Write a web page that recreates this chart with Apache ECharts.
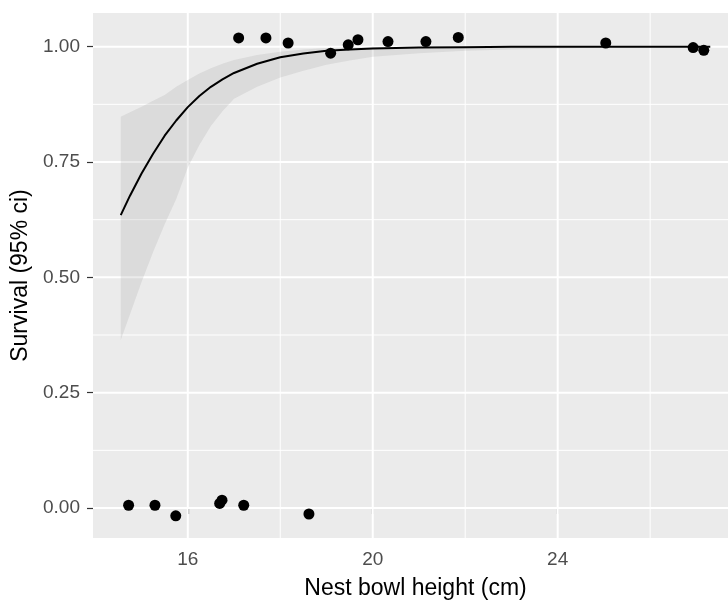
<!DOCTYPE html>
<html>
<head>
<meta charset="utf-8">
<script src="https://cdn.jsdelivr.net/npm/echarts@6/dist/echarts.min.js"></script>
<style>
html,body{margin:0;padding:0;background:#fff;}
#chart{width:728px;height:604px;}
</style>
</head>
<body>
<div id="chart"></div>
<script>
// Observed points (jittered survival 0/1)
var survX = [17.10,17.69,18.17,19.09,19.47,19.68,20.33,21.15,21.85,25.04,26.93,27.16,
             14.72,15.29,15.74,16.69,16.74,17.21,18.62];
var survY = [1.019,1.019,1.008,0.986,1.004,1.015,1.011,1.011,1.020,1.008,0.998,0.992,
             0.006,0.006,-0.017,0.010,0.017,0.006,-0.013];
// Fitted curve
var fitX = [14.55,14.75,15,15.25,15.5,15.75,16,16.25,16.5,16.75,17,17.5,18,18.5,19,19.5,20,21,22,23,27.3];
var fitY = [0.635,0.677,0.725,0.768,0.807,0.840,0.869,0.893,0.913,0.929,0.943,0.963,0.977,0.985,0.991,0.994,0.996,0.998,0.999,1.0,1.0];
// 95% CI ribbon
var ciX  = [14.55,14.75,15,15.25,15.5,15.75,16,16.25,16.5,16.75,17,17.5,18,18.5,19,19.5,20,21,22,23,24,25,26,27.3];
var ciLo = [0.364,0.420,0.490,0.555,0.615,0.670,0.738,0.787,0.828,0.860,0.887,0.913,0.933,0.948,0.961,0.970,0.978,0.986,0.991,0.994,0.996,0.998,0.999,1.0];
var ciHi = [0.848,0.858,0.870,0.883,0.895,0.913,0.928,0.942,0.953,0.963,0.971,0.982,0.989,0.994,0.997,0.998,0.999,1.0,1.0,1.0,1.0,1.0,1.0,1.0];
// Ticks / grid
var xTicks = [16,20,24];
var xMinor = [18,22,26];
var yTicks = [0,0.25,0.5,0.75,1];
var yMinor = [0.125,0.375,0.625,0.875];
var xRange = [13.95, 27.9];
var yRange = [-0.065, 1.073];

var chart = echarts.init(document.getElementById('chart'));
var font = 'Liberation Sans, Arial, sans-serif';

chart.setOption({
  animation:false,
  backgroundColor:'#ffffff',
  grid:{left:93, top:13, width:645, height:525, show:true, backgroundColor:'#EBEBEB',
        borderWidth:0, outerBoundsMode:'none', containLabel:false},
  xAxis:{
    type:'value', min:xRange[0], max:xRange[1],
    name:'Nest bowl height (cm)', nameLocation:'middle', nameGap:39,
    nameTextStyle:{fontFamily:font, fontSize:23, color:'#000'},
    axisLine:{show:false},
    axisTick:{show:true, length:6, customValues:xTicks, lineStyle:{color:'#333333', width:1.2}},
    axisLabel:{customValues:xTicks, fontFamily:font, fontSize:19, color:'#4D4D4D', margin:12},
    splitLine:{show:false}
  },
  yAxis:{
    type:'value', min:yRange[0], max:yRange[1],
    name:'Survival (95% ci)', nameLocation:'middle', nameGap:58, nameRotate:90,
    nameTextStyle:{fontFamily:font, fontSize:23, color:'#000'},
    axisLine:{show:false},
    axisTick:{show:true, length:6, customValues:yTicks, lineStyle:{color:'#333333', width:1.2}},
    axisLabel:{customValues:yTicks, fontFamily:font, fontSize:19, color:'#4D4D4D', margin:13,
      formatter:function(v){return v.toFixed(2);}},
    splitLine:{show:false}
  },
  series:[
    {
      type:'custom', z:1, silent:true, clip:true,
      data:[[xRange[0], yRange[0]]],
      renderItem:function(params, api){
        var ch = [];
        function vline(v, w){
          var a = api.coord([v, yRange[0]]), b = api.coord([v, yRange[1]]);
          ch.push({type:'line', shape:{x1:a[0],y1:a[1],x2:b[0],y2:b[1]}, style:{stroke:'#fff', lineWidth:w}});
        }
        function hline(v, w){
          var a = api.coord([xRange[0], v]), b = api.coord([xRange[1], v]);
          ch.push({type:'line', shape:{x1:a[0],y1:a[1],x2:b[0],y2:b[1]}, style:{stroke:'#fff', lineWidth:w}});
        }
        xMinor.forEach(function(v){vline(v,1);});
        yMinor.forEach(function(v){hline(v,1);});
        xTicks.forEach(function(v){vline(v,2);});
        yTicks.forEach(function(v){hline(v,2);});
        return {type:'group', children:ch};
      }
    },
    {
      type:'custom', z:2, silent:true, clip:true,
      data:[[ciX[0], ciLo[0]]],
      renderItem:function(params, api){
        var pts = [];
        for (var i=0;i<ciX.length;i++) pts.push(api.coord([ciX[i], ciHi[i]]));
        for (var j=ciX.length-1;j>=0;j--) pts.push(api.coord([ciX[j], ciLo[j]]));
        return {type:'polygon', shape:{points:pts}, style:{fill:'rgba(153,153,153,0.2)'}};
      }
    },
    {
      type:'line', z:3, data:fitX.map(function(x,i){return [x, fitY[i]];}),
      showSymbol:false, smooth:false,
      lineStyle:{color:'#000', width:2}
    },
    {
      type:'scatter', z:4, data:survX.map(function(x,i){return [x, survY[i]];}),
      symbolSize:11, itemStyle:{color:'#000', opacity:1}
    }
  ]
});
</script>
</body>
</html>
